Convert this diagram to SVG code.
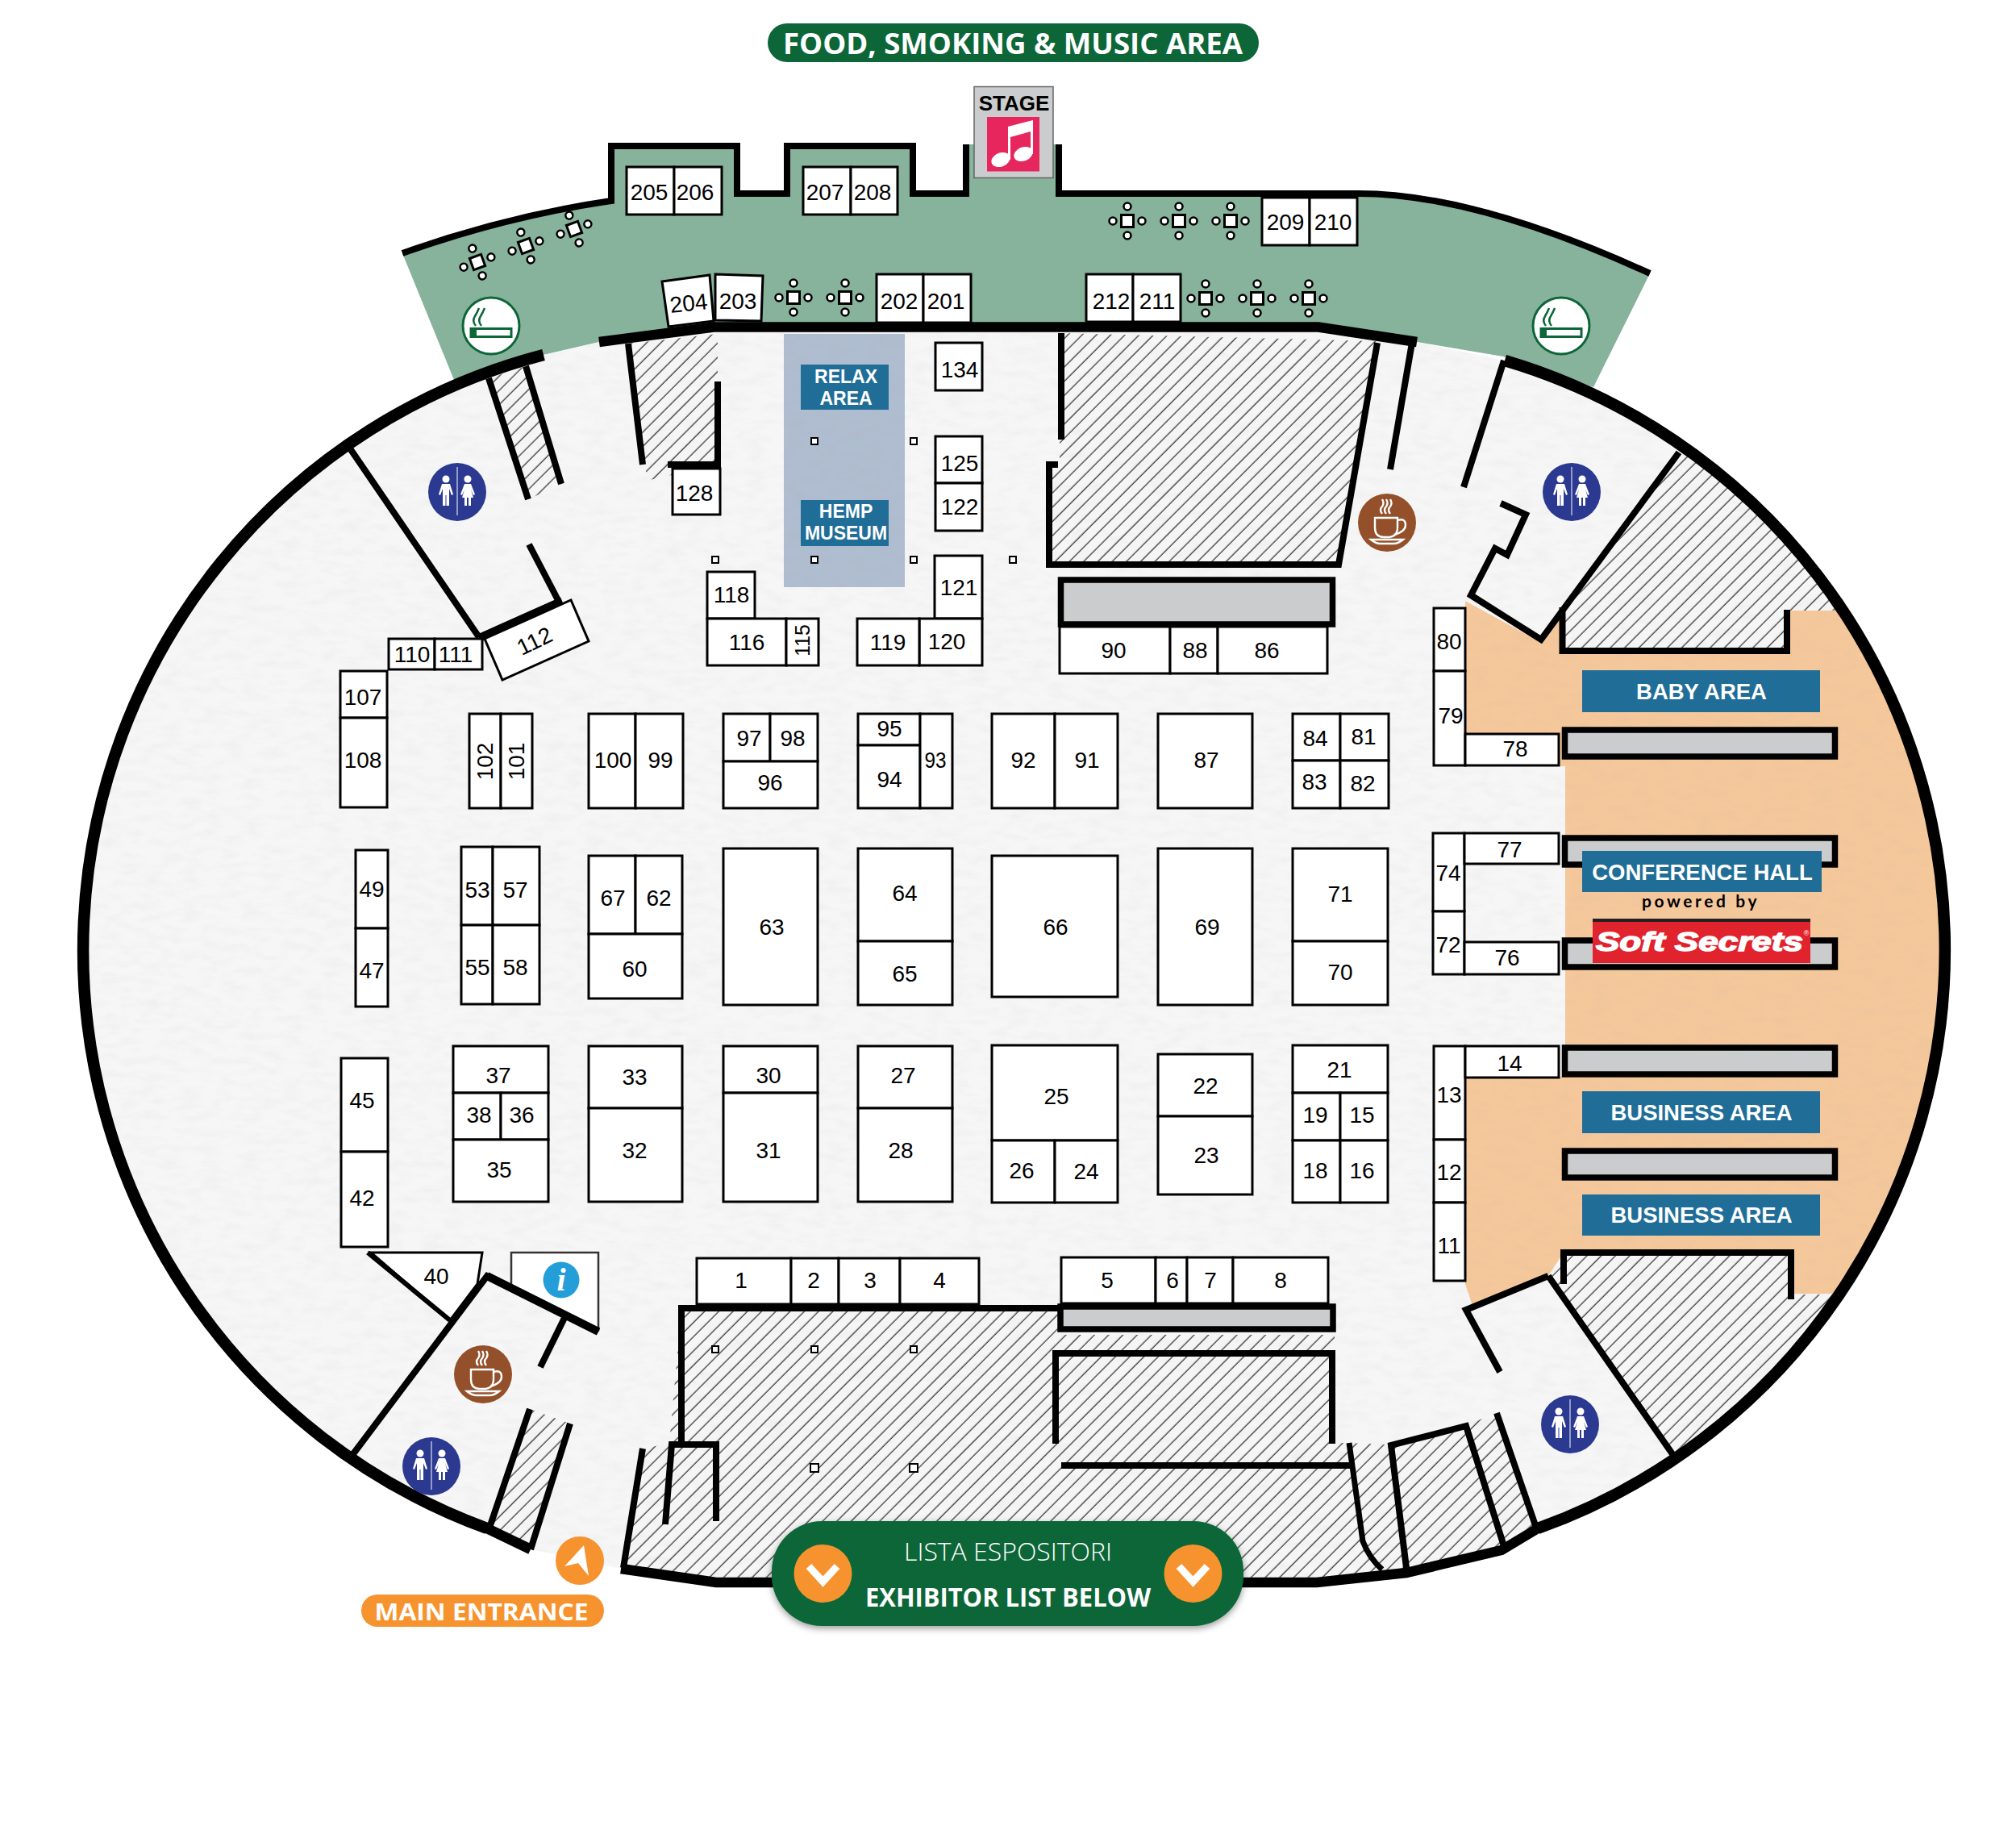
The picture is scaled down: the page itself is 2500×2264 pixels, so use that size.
<svg xmlns="http://www.w3.org/2000/svg" width="2500" height="2264" viewBox="0 0 2500 2264">
<style>
text{font-family:"Liberation Sans",Arial,sans-serif}
.s{fill:#fff;stroke:#000;stroke-width:3}
.n{font-size:28px;text-anchor:middle;dominant-baseline:central;fill:#000}
.w{fill:none;stroke:#000;stroke-width:8;stroke-linejoin:miter}
.w7{fill:none;stroke:#000;stroke-width:7;stroke-linejoin:miter}
.wo{fill:none;stroke:#000;stroke-width:12.5;stroke-linejoin:miter}
.arc{fill:none;stroke:#000;stroke-width:14.5;stroke-linejoin:miter}
.h{fill:url(#hatch)}
.f{fill:#f6f6f6}
.bar{fill:#cbcccd;stroke:#000;stroke-width:7.5}
.lab{fill:#206e97}
.lt{font-weight:700;fill:#fff;text-anchor:middle;dominant-baseline:central}
.op{font-family:"Open Sans",sans-serif;fill:#fff;text-anchor:middle}
.col{fill:#fff;stroke:#000;stroke-width:2}
.or{fill:#f6932f}
</style>
<defs>
<pattern id="hatch" patternUnits="userSpaceOnUse" width="12.5" height="12.5" patternTransform="rotate(45)"><line x1="5" y1="0" x2="5" y2="12.5" stroke="#000" stroke-width="1"/></pattern>
<clipPath id="fl"><path d="M743 424L885 405H1635L1757 424L1866 447A762 762 0 0 1 1907 1895L1862 1922L1744 1950L1633 1962H888L770 1945L658 1921L604 1895A763 763 0 0 1 674 440Z"/></clipPath>
<filter id="sh" x="-5%" y="-10%" width="110%" height="125%"><feDropShadow dx="0" dy="3" stdDeviation="4" flood-color="#000" flood-opacity=".4"/></filter>
<filter id="paper" x="0" y="0" width="100%" height="100%"><feTurbulence type="fractalNoise" baseFrequency=".04 .1" numOctaves="4" seed="3"/><feColorMatrix values="0 0 0 0 .35 0 0 0 0 .35 0 0 0 0 .35 .14 0 0 0 -.055"/></filter>
<g id="tbl"><rect x="-7.5" y="-7.5" width="15" height="15" fill="#fff" stroke="#000" stroke-width="3"/><g fill="#fff" stroke="#000" stroke-width="2.5"><circle cy="-18" r="4.5"/><circle cy="18" r="4.5"/><circle cx="-18" r="4.5"/><circle cx="18" r="4.5"/></g></g>
<g id="rest"><circle r="36" fill="#2b3990"/><g fill="#fff"><circle cx="-14" cy="-16" r="4.5"/><circle cx="13" cy="-16" r="4.5"/><path d="M-19-10H-9L-5 3-7 4-10-4V17H-13.5V4H-14.5V17H-18V-4L-21 4-23 3Z"/><path d="M9-10H17L22 3 20 4 17-3 20 7H17V17H14V7H12V17H9V7H6L9-3 6 4 4 3Z"/></g><line y1="-31" y2="29" stroke="#fff" stroke-width="1"/></g>
<g id="cof"><circle r="36" fill="#94502a"/><g fill="none" stroke="#fff" stroke-width="2.4"><path d="M-15-6H13V6Q13 18 1 18H-4Q-15 18-15 6Z"/><path d="M13-3Q23-6 23 3Q23 11 9 15"/><path d="M-20 21H20Q14 26 8 26H-8Q-14 26-20 21Z"/><path d="M-6-11Q-10-16-6-20Q-3-24-6-29M-1-11Q-5-16-1-20Q2-24-1-29M4-11Q0-16 4-20Q7-24 4-29"/></g></g>
<g id="smk"><circle r="35" fill="#fff" stroke="#0c6638" stroke-width="3"/><rect x="-25" y="3.5" width="50" height="10" fill="none" stroke="#0c6638" stroke-width="3"/><rect x="-25" y="3.5" width="7" height="10" fill="#0c6638"/><path d="M-19 0Q-24-6-20-12Q-17-17-15-22M-12 0Q-17-6-13-12Q-10-17-8-22" fill="none" stroke="#0c6638" stroke-width="2.5"/></g>
</defs>

<g id="background">
<rect width="2500" height="2264" fill="#fff"/>
<path id="food-area" d="M499 314Q628 268 758 249V181H914V240H976V181H1132V240H1198V179H1313V240H1684Q1830 240 2046 339L1976 480L1864 442L1757 424L1635 410H885L743 424L674 440L563 471Z" fill="#87b29b"/>
<path id="floor" class="f" d="M743 424L885 405H1635L1757 424L1866 447A762 762 0 0 1 1907 1895L1862 1922L1744 1950L1633 1962H888L770 1945L658 1921L604 1895A763 763 0 0 1 674 440Z"/>
<g clip-path="url(#fl)">
<path id="peach" d="M1817 745L1912 797L1940 756H2420V1604H1940V1580L1920 1582L1827 1622L1817 1592V1335H1941V950H1817Z" fill="#f5c89b"/>
<path class="f" d="M1938 807V757L2085 557L2350 560V757H2216V807Z"/>
<path class="f" d="M1939 1553H2221V1605H2350V1810H2082L1920 1582Z"/>
<rect id="relax-zone" x="972" y="414" width="150" height="314" fill="#afbdd0"/>
<rect x="0" y="380" width="2500" height="1600" filter="url(#paper)"/>
<path class="h" d="M606 469L652 454L697 600L655 619Z"/>
<path class="h" d="M779 426L890 414V576L806 595L796 574Z"/>
<path class="h" d="M1314 413L1708 423L1658 700H1301V576H1314Z"/>
<path class="h" d="M1938 807V757L2085 557L2350 560V757H2216V807Z"/>
<path class="h" d="M1939 1553H2221V1605H2350V1810H2082L1920 1582Z"/>
<path class="h" d="M845 1622H1315V1655H1655V1789L1674 1789L1740 1792L1818 1767L1856 1752L1907 1895L1862 1926L1744 1955L1633 1967H888L770 1950L796 1796L830 1790Z"/>
<path class="h" d="M657 1747L707 1765L658 1925L604 1900Z"/>
</g>
</g>

<g id="walls">
<path class="arc" d="M674 440A763 763 0 0 0 604 1895M1907 1895A762 762 0 0 0 1866 447"/>
<path class="wo" d="M604 1895L658 1921M770 1945L888 1962H1633L1744 1950L1862 1922L1907 1895"/>
<path class="wo" d="M743 424L885 405.500H1635L1757 424"/>
<path class="w" d="M499 314Q628 268 758 249V181H914V240H976V181H1132V240H1198V179M1313 179V240H1684Q1830 240 2046 339"/>
<path class="w" d="M606 469L655 619M652 454L696 600"/>
<path class="w" d="M779 426L797 576M890 473V579M828 576H894"/>
<path class="w" d="M1316 413V545M1312 576H1301V700H1660L1708 425M1751 425L1724 582M1865 447L1815 604"/>
<path class="w" d="M1861 624L1892 638L1869 688L1854 680L1824 738L1911 793L2082 561"/>
<path class="w" d="M1937.500 753V807H2216V756"/>
<path class="w" d="M434 556L594 790M656 675L693 746"/>
<path style="fill:none;stroke:#000;stroke-width:10" d="M594 791L697 745"/>
<path class="w" d="M1939 1592V1553H2221V1611M1920 1582L1818 1624L1860 1701M1920 1582L2079 1810"/>
<path class="w" d="M845 1622H1315M845 1618V1789"/>
<path class="w" d="M1309 1790V1678H1652V1790M1316 1817H1677"/>
<path class="w7" d="M1673 1789L1690 1911Q1698 1932 1714 1946"/>
<path class="w" d="M1744 1944L1725 1792L1818 1768L1865 1917M1856 1752L1907 1900"/>
<path class="w" d="M657 1747L605 1900M707 1765L658 1921"/>
<path class="w" d="M434 1808L604 1582L742 1651M700 1634L670 1695"/>
<path class="w" d="M797 1796L773 1944M825 1890L833 1791H888V1886"/>
</g>

<g id="gray-bars">
<rect class="bar" x="1315.500" y="719" width="337" height="55" stroke-width="8"/>
<rect class="bar" x="1315" y="1620" width="338" height="28"/>
<rect class="bar" x="1940.500" y="905" width="335" height="33"/>
<rect class="bar" x="1940.500" y="1039" width="335" height="33"/>
<rect class="bar" x="1940.500" y="1166" width="335" height="33"/>
<rect class="bar" x="1940.500" y="1299" width="335" height="33"/>
<rect class="bar" x="1940.500" y="1427" width="335" height="33"/>
</g>

<g id="columns">
<rect class="col" x="1006" y="543" width="8" height="8"/><rect class="col" x="1129" y="543" width="8" height="8"/>
<rect class="col" x="883" y="690" width="8" height="8"/><rect class="col" x="1006" y="690" width="8" height="8"/><rect class="col" x="1129" y="690" width="8" height="8"/><rect class="col" x="1252" y="690" width="8" height="8"/>
<rect class="col" x="883" y="1669" width="8" height="8"/><rect class="col" x="1006" y="1669" width="8" height="8"/><rect class="col" x="1129" y="1669" width="8" height="8"/>
<rect class="col" x="1005" y="1815" width="10" height="10"/><rect class="col" x="1128" y="1815" width="10" height="10"/>
</g>

<g id="tables">
<use href="#tbl" transform="translate(592 325) rotate(-20)"/><use href="#tbl" transform="translate(652 305) rotate(-20)"/><use href="#tbl" transform="translate(712 284) rotate(-20)"/>
<use href="#tbl" x="984" y="369"/><use href="#tbl" x="1048" y="369"/>
<use href="#tbl" x="1398" y="274"/><use href="#tbl" x="1462" y="274"/><use href="#tbl" x="1526" y="274"/>
<use href="#tbl" x="1495" y="370"/><use href="#tbl" x="1559" y="370"/><use href="#tbl" x="1623" y="370"/>
</g>

<g id="stands">
<g id="s205"><rect class="s" x="777" y="207" width="59" height="59"/><text class="n" x="805" y="238">205</text></g>
<g id="s206"><rect class="s" x="836" y="207" width="59" height="59"/><text class="n" x="862" y="238">206</text></g>
<g id="s207"><rect class="s" x="996" y="207" width="59" height="59"/><text class="n" x="1023" y="238">207</text></g>
<g id="s208"><rect class="s" x="1055" y="207" width="58" height="59"/><text class="n" x="1082" y="238">208</text></g>
<g id="s204"><path class="s" d="M821 349L880 341L885 398L829 405Z"/><text class="n" x="854" y="376" transform="rotate(-6 854 376)">204</text></g>
<g id="s203"><path class="s" d="M887 340L946 342L944 398L887 397Z"/><text class="n" x="915" y="373">203</text></g>
<g id="s202"><rect class="s" x="1087" y="340" width="58" height="60"/><text class="n" x="1115" y="373">202</text></g>
<g id="s201"><rect class="s" x="1145" y="340" width="59" height="60"/><text class="n" x="1173" y="373">201</text></g>
<g id="s209"><rect class="s" x="1565" y="245" width="59" height="59"/><text class="n" x="1594" y="275">209</text></g>
<g id="s210"><rect class="s" x="1624" y="245" width="59" height="59"/><text class="n" x="1653" y="275">210</text></g>
<g id="s212"><rect class="s" x="1347" y="340" width="58" height="59"/><text class="n" x="1378" y="373">212</text></g>
<g id="s211"><rect class="s" x="1405" y="340" width="59" height="59"/><text class="n" x="1435" y="373">211</text></g>
<g id="s134"><rect class="s" x="1160" y="425" width="58" height="59"/><text class="n" x="1190" y="458">134</text></g>
<g id="s125"><rect class="s" x="1160" y="541" width="58" height="58"/><text class="n" x="1190" y="574">125</text></g>
<g id="s122"><rect class="s" x="1160" y="599" width="58" height="59"/><text class="n" x="1190" y="628">122</text></g>
<g id="s121"><rect class="s" x="1159" y="689" width="59" height="78"/><text class="n" x="1189" y="728">121</text></g>
<g id="s120"><rect class="s" x="1140" y="767" width="78" height="58"/><text class="n" x="1174" y="795">120</text></g>
<g id="s119"><rect class="s" x="1063" y="767" width="77" height="58"/><text class="n" x="1101" y="796">119</text></g>
<g id="s128"><rect class="s" x="834" y="581" width="59" height="57"/><text class="n" x="861" y="611">128</text></g>
<g id="s118"><rect class="s" x="877" y="709" width="59" height="58"/><text class="n" x="907" y="737">118</text></g>
<g id="s116"><rect class="s" x="877" y="767" width="98" height="58"/><text class="n" x="926" y="796">116</text></g>
<g id="s115"><rect class="s" x="975" y="767" width="40" height="58"/><text class="n" x="995" y="794" style="font-size:25px" transform="rotate(-90 995 794)">115</text></g>
<g id="s110"><rect class="s" x="482" y="792" width="57" height="38"/><text class="n" x="511" y="811">110</text></g>
<g id="s111"><rect class="s" x="539" y="792" width="59" height="38"/><text class="n" x="565" y="811">111</text></g>
<g id="s112"><path class="s" d="M601 792L708 744L730 795L623 843Z"/><text class="n" x="663" y="795" transform="rotate(-26 663 795)">112</text></g>
<g id="s107"><rect class="s" x="422" y="832" width="58" height="58"/><text class="n" x="450" y="864">107</text></g>
<g id="s108"><rect class="s" x="422" y="890" width="58" height="111"/><text class="n" x="450" y="942">108</text></g>
<g id="s102"><rect class="s" x="582" y="885" width="39" height="117"/><text class="n" x="601" y="944" transform="rotate(-90 601 944)">102</text></g>
<g id="s101"><rect class="s" x="621" y="885" width="39" height="117"/><text class="n" x="640" y="944" transform="rotate(-90 640 944)">101</text></g>
<g id="s100"><rect class="s" x="730" y="885" width="58" height="117"/><text class="n" x="760" y="942">100</text></g>
<g id="s99"><rect class="s" x="788" y="885" width="59" height="117"/><text class="n" x="819" y="942">99</text></g>
<g id="s97"><rect class="s" x="897" y="885" width="58" height="59"/><text class="n" x="929" y="915">97</text></g>
<g id="s98"><rect class="s" x="955" y="885" width="59" height="59"/><text class="n" x="983" y="915">98</text></g>
<g id="s96"><rect class="s" x="897" y="944" width="117" height="58"/><text class="n" x="955" y="970">96</text></g>
<g id="s95"><rect class="s" x="1064" y="885" width="77" height="39"/><text class="n" x="1103" y="903">95</text></g>
<g id="s94"><rect class="s" x="1064" y="924" width="77" height="78"/><text class="n" x="1103" y="966">94</text></g>
<g id="s93"><rect class="s" x="1141" y="885" width="40" height="117"/><text class="n" x="1160" y="942" textLength="27" lengthAdjust="spacingAndGlyphs">93</text></g>
<g id="s92"><rect class="s" x="1230" y="885" width="78" height="117"/><text class="n" x="1269" y="942">92</text></g>
<g id="s91"><rect class="s" x="1308" y="885" width="78" height="117"/><text class="n" x="1348" y="942">91</text></g>
<g id="s87"><rect class="s" x="1436" y="885" width="117" height="117"/><text class="n" x="1496" y="942">87</text></g>
<g id="s84"><rect class="s" x="1603" y="885" width="59" height="58"/><text class="n" x="1631" y="915">84</text></g>
<g id="s81"><rect class="s" x="1662" y="885" width="60" height="58"/><text class="n" x="1691" y="913">81</text></g>
<g id="s83"><rect class="s" x="1603" y="943" width="59" height="59"/><text class="n" x="1630" y="969">83</text></g>
<g id="s82"><rect class="s" x="1662" y="943" width="60" height="59"/><text class="n" x="1690" y="971">82</text></g>
<g id="s90"><rect class="s" x="1314" y="777" width="137" height="58"/><text class="n" x="1381" y="806">90</text></g>
<g id="s88"><rect class="s" x="1451" y="777" width="59" height="58"/><text class="n" x="1482" y="806">88</text></g>
<g id="s86"><rect class="s" x="1510" y="777" width="136" height="58"/><text class="n" x="1571" y="806">86</text></g>
<g id="s80"><rect class="s" x="1778" y="754" width="39" height="78"/><text class="n" x="1797" y="795">80</text></g>
<g id="s79"><rect class="s" x="1778" y="832" width="39" height="117"/><text class="n" x="1799" y="887">79</text></g>
<g id="s78"><rect class="s" x="1817" y="910" width="116" height="39"/><text class="n" x="1879" y="928">78</text></g>
<g id="s74"><rect class="s" x="1777" y="1033" width="39" height="97"/><text class="n" x="1796" y="1082">74</text></g>
<g id="s72"><rect class="s" x="1777" y="1130" width="39" height="78"/><text class="n" x="1796" y="1171">72</text></g>
<g id="s77"><rect class="s" x="1816" y="1033" width="117" height="38"/><text class="n" x="1872" y="1053">77</text></g>
<g id="s76"><rect class="s" x="1816" y="1168" width="117" height="40"/><text class="n" x="1869" y="1187">76</text></g>
<g id="s49"><rect class="s" x="441" y="1054" width="40" height="97"/><text class="n" x="461" y="1102">49</text></g>
<g id="s47"><rect class="s" x="441" y="1151" width="40" height="97"/><text class="n" x="461" y="1203">47</text></g>
<g id="s53"><rect class="s" x="572" y="1050" width="39" height="97"/><text class="n" x="592" y="1103">53</text></g>
<g id="s57"><rect class="s" x="611" y="1050" width="58" height="97"/><text class="n" x="639" y="1103">57</text></g>
<g id="s55"><rect class="s" x="572" y="1147" width="39" height="98"/><text class="n" x="592" y="1199">55</text></g>
<g id="s58"><rect class="s" x="611" y="1147" width="58" height="98"/><text class="n" x="639" y="1199">58</text></g>
<g id="s67"><rect class="s" x="730" y="1061" width="58" height="97"/><text class="n" x="760" y="1113">67</text></g>
<g id="s62"><rect class="s" x="788" y="1061" width="58" height="97"/><text class="n" x="817" y="1113">62</text></g>
<g id="s60"><rect class="s" x="730" y="1158" width="116" height="80"/><text class="n" x="787" y="1201">60</text></g>
<g id="s63"><rect class="s" x="897" y="1052" width="117" height="194"/><text class="n" x="957" y="1149">63</text></g>
<g id="s64"><rect class="s" x="1064" y="1052" width="117" height="115"/><text class="n" x="1122" y="1107">64</text></g>
<g id="s65"><rect class="s" x="1064" y="1167" width="117" height="79"/><text class="n" x="1122" y="1207">65</text></g>
<g id="s66"><rect class="s" x="1230" y="1061" width="156" height="175"/><text class="n" x="1309" y="1149">66</text></g>
<g id="s69"><rect class="s" x="1436" y="1052" width="117" height="194"/><text class="n" x="1497" y="1149">69</text></g>
<g id="s71"><rect class="s" x="1603" y="1052" width="118" height="115"/><text class="n" x="1662" y="1108">71</text></g>
<g id="s70"><rect class="s" x="1603" y="1167" width="118" height="79"/><text class="n" x="1662" y="1205">70</text></g>
<g id="s45"><rect class="s" x="423" y="1312" width="58" height="116"/><text class="n" x="449" y="1364">45</text></g>
<g id="s42"><rect class="s" x="423" y="1428" width="58" height="118"/><text class="n" x="449" y="1485">42</text></g>
<g id="s37"><rect class="s" x="562" y="1297" width="118" height="58"/><text class="n" x="618" y="1333">37</text></g>
<g id="s38"><rect class="s" x="562" y="1355" width="59" height="58"/><text class="n" x="594" y="1382">38</text></g>
<g id="s36"><rect class="s" x="621" y="1355" width="59" height="58"/><text class="n" x="647" y="1382">36</text></g>
<g id="s35"><rect class="s" x="562" y="1413" width="118" height="77"/><text class="n" x="619" y="1450">35</text></g>
<g id="s33"><rect class="s" x="730" y="1297" width="116" height="77"/><text class="n" x="787" y="1335">33</text></g>
<g id="s32"><rect class="s" x="730" y="1374" width="116" height="116"/><text class="n" x="787" y="1426">32</text></g>
<g id="s30"><rect class="s" x="897" y="1297" width="117" height="58"/><text class="n" x="953" y="1333">30</text></g>
<g id="s31"><rect class="s" x="897" y="1355" width="117" height="135"/><text class="n" x="953" y="1426">31</text></g>
<g id="s27"><rect class="s" x="1064" y="1297" width="117" height="77"/><text class="n" x="1120" y="1333">27</text></g>
<g id="s28"><rect class="s" x="1064" y="1374" width="117" height="116"/><text class="n" x="1117" y="1426">28</text></g>
<g id="s25"><rect class="s" x="1230" y="1296" width="156" height="118"/><text class="n" x="1310" y="1359">25</text></g>
<g id="s26"><rect class="s" x="1230" y="1414" width="78" height="77"/><text class="n" x="1267" y="1451">26</text></g>
<g id="s24"><rect class="s" x="1308" y="1414" width="78" height="77"/><text class="n" x="1347" y="1452">24</text></g>
<g id="s22"><rect class="s" x="1436" y="1307" width="117" height="77"/><text class="n" x="1495" y="1346">22</text></g>
<g id="s23"><rect class="s" x="1436" y="1384" width="117" height="97"/><text class="n" x="1496" y="1432">23</text></g>
<g id="s21"><rect class="s" x="1603" y="1296" width="118" height="59"/><text class="n" x="1661" y="1326">21</text></g>
<g id="s19"><rect class="s" x="1603" y="1355" width="59" height="59"/><text class="n" x="1631" y="1382">19</text></g>
<g id="s15"><rect class="s" x="1662" y="1355" width="59" height="59"/><text class="n" x="1689" y="1382">15</text></g>
<g id="s18"><rect class="s" x="1603" y="1414" width="59" height="77"/><text class="n" x="1631" y="1451">18</text></g>
<g id="s16"><rect class="s" x="1662" y="1414" width="59" height="77"/><text class="n" x="1689" y="1451">16</text></g>
<g id="s13"><rect class="s" x="1778" y="1297" width="39" height="116"/><text class="n" x="1797" y="1357">13</text></g>
<g id="s12"><rect class="s" x="1778" y="1413" width="39" height="78"/><text class="n" x="1797" y="1453">12</text></g>
<g id="s11"><rect class="s" x="1778" y="1491" width="39" height="97"/><text class="n" x="1797" y="1544">11</text></g>
<g id="s14"><rect class="s" x="1817" y="1297" width="116" height="39"/><text class="n" x="1872" y="1318">14</text></g>
<g id="s1"><rect class="s" x="864" y="1560" width="117" height="57"/><text class="n" x="919" y="1587">1</text></g>
<g id="s2"><rect class="s" x="981" y="1560" width="59" height="57"/><text class="n" x="1009" y="1587">2</text></g>
<g id="s3"><rect class="s" x="1040" y="1560" width="76" height="57"/><text class="n" x="1079" y="1587">3</text></g>
<g id="s4"><rect class="s" x="1116" y="1560" width="98" height="57"/><text class="n" x="1165" y="1587">4</text></g>
<g id="s5"><rect class="s" x="1316" y="1559" width="117" height="57"/><text class="n" x="1373" y="1587">5</text></g>
<g id="s6"><rect class="s" x="1433" y="1559" width="39" height="57"/><text class="n" x="1454" y="1587">6</text></g>
<g id="s7"><rect class="s" x="1472" y="1559" width="57" height="57"/><text class="n" x="1501" y="1587">7</text></g>
<g id="s8"><rect class="s" x="1529" y="1559" width="118" height="57"/><text class="n" x="1588" y="1587">8</text></g>
<g id="s40"><path class="s" d="M460 1553H598L592 1592L558 1637Z"/><path d="M456 1553L558 1637" stroke="#000" stroke-width="6" fill="none"/><text class="n" x="541" y="1582">40</text></g>
</g>

<g id="info"><path d="M634 1553H742V1649L634 1595Z" fill="#fff" stroke="#333" stroke-width="2.500"/><path d="M604 1582L742 1651" stroke="#000" stroke-width="10" fill="none"/><circle cx="696" cy="1587" r="22.500" fill="#239ed9"/><text x="696" y="1600" text-anchor="middle" style="font-family:'Liberation Serif',serif;font-weight:700;font-style:italic;font-size:40px" fill="#fff">i</text></g>

<g id="icons">
<use href="#rest" x="567" y="610"/><use href="#rest" x="1949" y="610"/><use href="#rest" x="535" y="1818"/><use href="#rest" x="1947" y="1766"/>
<use href="#cof" x="1720" y="648"/><use href="#cof" x="599" y="1704"/>
<use href="#smk" x="609" y="404"/><use href="#smk" x="1936" y="404"/>
</g>

<g id="stage">
<rect x="1208" y="107.500" width="98" height="113" fill="#cbcccd" stroke="#666" stroke-width="1.500"/>
<text x="1257.500" y="127.500" style="font-size:26px;font-weight:700;text-anchor:middle;dominant-baseline:central">STAGE</text>
<rect x="1224" y="145" width="65" height="67.500" fill="#e6265c"/>
<path d="M1250 157L1281 149V191H1278V163L1253 170V198H1250Z" fill="#fff"/>
<ellipse cx="1241" cy="198" rx="12" ry="8.500" transform="rotate(-22 1241 198)" fill="#fff"/>
<ellipse cx="1269" cy="191" rx="12" ry="8.500" transform="rotate(-22 1269 191)" fill="#fff"/>
</g>

<g id="labels">
<g id="relax"><rect class="lab" x="993" y="452" width="109" height="56"/><text class="lt" x="1049" y="467" style="font-size:23px">RELAX</text><text class="lt" x="1049" y="494" style="font-size:23px">AREA</text></g>
<g id="hemp"><rect class="lab" x="993" y="620" width="109" height="57"/><text class="lt" x="1049" y="634" style="font-size:23px">HEMP</text><text class="lt" x="1049" y="661" style="font-size:23px">MUSEUM</text></g>
<g id="baby"><rect class="lab" x="1962" y="831" width="295" height="52"/><text class="lt" x="2110" y="857" style="font-size:27.5px">BABY AREA</text></g>
<g id="conf"><rect class="lab" x="1962" y="1055" width="297" height="51"/><text class="lt" x="2111" y="1081" style="font-size:27.500px">CONFERENCE HALL</text></g>
<text id="powered" x="2109" y="1125" style="font-family:Lato,sans-serif;font-weight:700;font-size:21px;letter-spacing:3.6px;text-anchor:middle" fill="#000">powered by</text>
<g id="softsecrets"><rect x="1975" y="1139" width="270" height="55" fill="#e1232e"/><rect x="1975" y="1139" width="270" height="4" fill="#231f20"/><text x="1979" y="1179" textLength="257" lengthAdjust="spacingAndGlyphs" style="font-size:34px;font-weight:700;font-style:italic;stroke:#fff;stroke-width:1.500" fill="#fff">Soft Secrets</text><text x="2240" y="1160" text-anchor="middle" style="font-size:9px" fill="#fff">®</text></g>
<g id="business1"><rect class="lab" x="1962" y="1353" width="295" height="52"/><text class="lt" x="2110" y="1379" style="font-size:27.500px">BUSINESS AREA</text></g>
<g id="business2"><rect class="lab" x="1962" y="1481" width="295" height="51"/><text class="lt" x="2110" y="1506" style="font-size:27.500px">BUSINESS AREA</text></g>
</g>

<g id="title"><rect x="952" y="29" width="609" height="48" rx="24" fill="#0c6638"/><text class="op" x="1256" y="67" textLength="570" lengthAdjust="spacingAndGlyphs" style="font-size:36px;font-weight:700">FOOD, SMOKING &amp; MUSIC AREA</text></g>

<g id="exhibitor-list">
<rect x="957" y="1886" width="585" height="130" rx="62" fill="#0c6638" filter="url(#sh)"/>
<circle class="or" cx="1020.500" cy="1951" r="36"/><circle class="or" cx="1479.500" cy="1951" r="36"/>
<path d="M1003 1942L1020.500 1961L1038 1942M1462 1942L1479.500 1961L1497 1942" fill="none" stroke="#fff" stroke-width="9"/>
<text class="op" x="1250" y="1935" textLength="258" lengthAdjust="spacingAndGlyphs" style="font-size:32px;font-weight:300">LISTA ESPOSITORI</text>
<text class="op" x="1250" y="1992" textLength="354" lengthAdjust="spacingAndGlyphs" style="font-size:32px;font-weight:700">EXHIBITOR LIST BELOW</text>
</g>

<g id="main-entrance">
<circle class="or" cx="719" cy="1935" r="30"/><path d="M724 1916L700 1942L717 1938L730 1954Z" fill="#fff"/>
<rect class="or" x="448" y="1977" width="301" height="40" rx="20"/>
<text class="op" x="597" y="2009" textLength="265" lengthAdjust="spacingAndGlyphs" style="font-size:29px;font-weight:700">MAIN ENTRANCE</text>
</g>
</svg>
